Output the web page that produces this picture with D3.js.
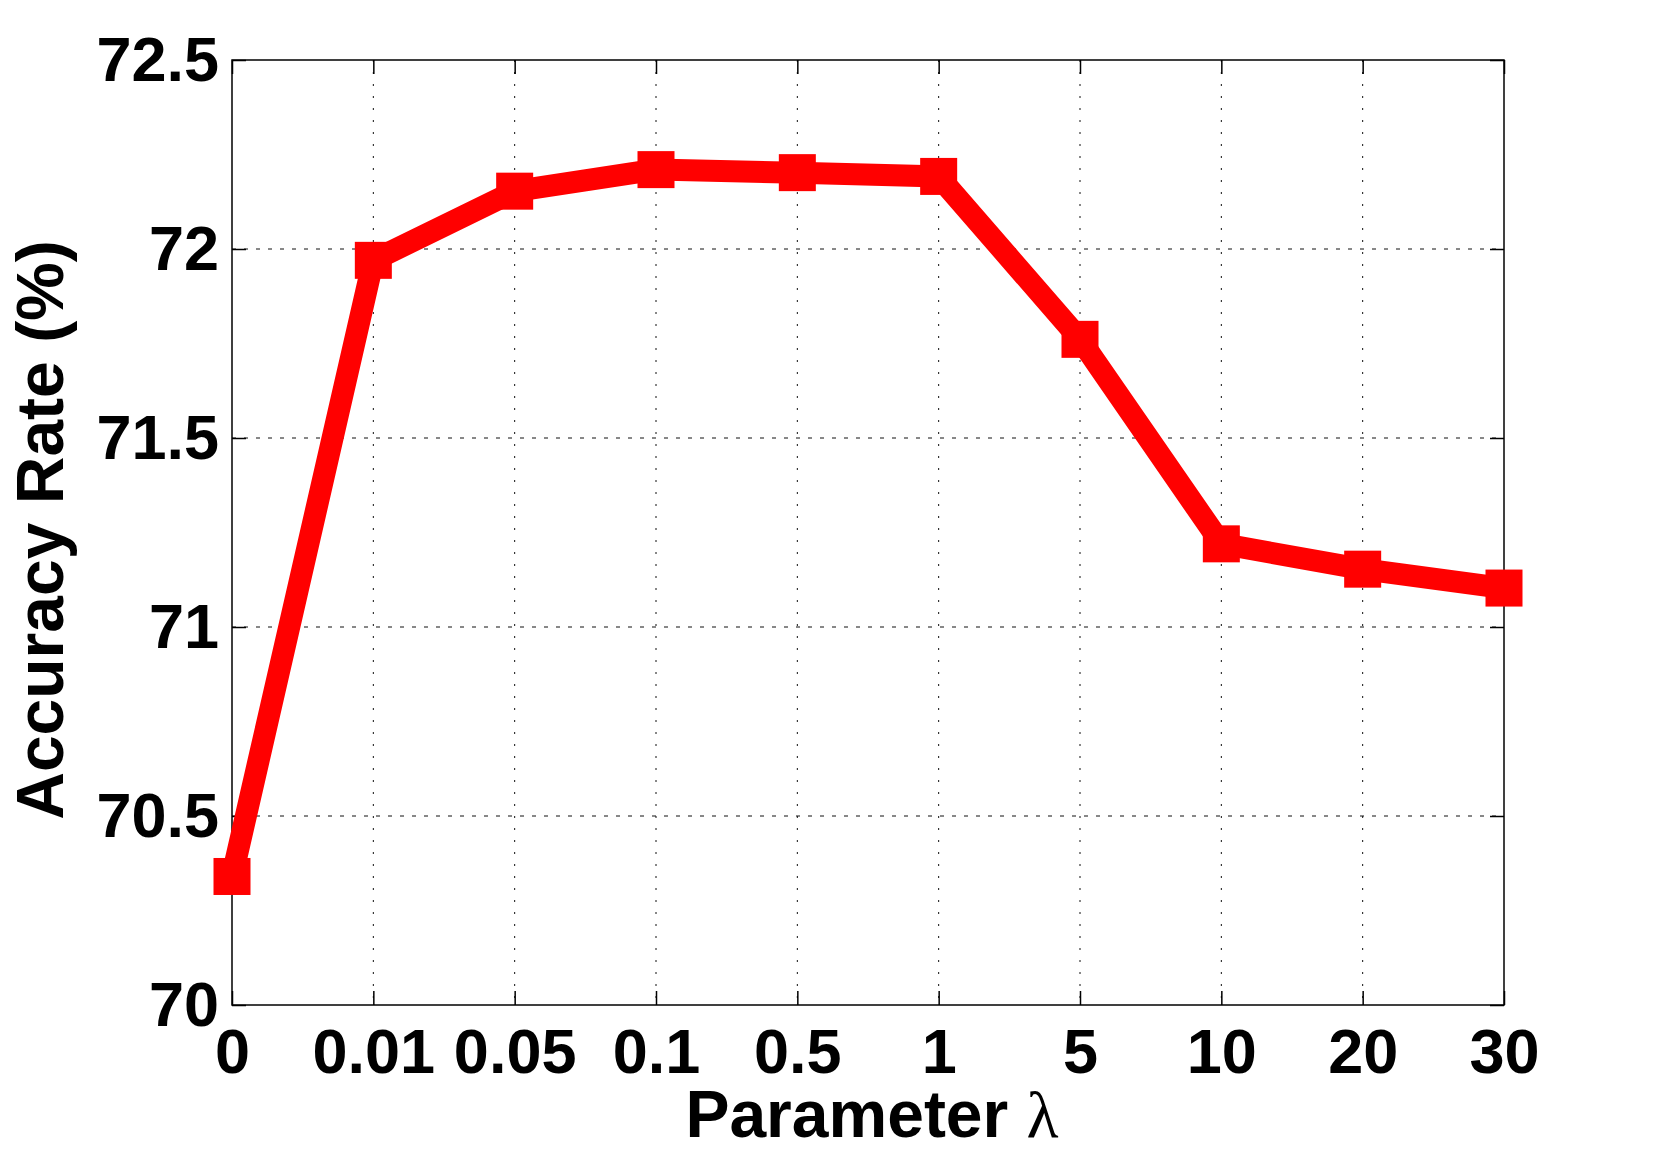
<!DOCTYPE html>
<html>
<head>
<meta charset="utf-8">
<script src="https://cdn.jsdelivr.net/npm/d3@7"></script>
<style>
  body { margin: 0; background: #fff; }
  text { font-family: "Liberation Sans", Arial, sans-serif; font-weight: bold; fill: #000; }
</style>
</head>
<body>
<div class="container"></div>
<script>
const width = 1653;
const height = 1159;

// lambda values shown as categories on the x axis
const lambdas = ["0", "0.01", "0.05", "0.1", "0.5", "1", "5", "10", "20", "30"];
// accuracy rate (%)
const accuracy = [70.34, 71.97, 72.153, 72.21, 72.202, 72.192, 71.761, 71.22, 71.153, 71.103];
const yTicks = [70, 70.5, 71, 71.5, 72, 72.5];

const plotLeft = 232, plotRight = 1504, plotTop = 60, plotBottom = 1005;

const x = d3.scalePoint().domain(lambdas).range([plotLeft, plotRight]).padding(0);
const y = d3.scaleLinear().domain([70, 72.5]).range([plotBottom, plotTop]);

const svg = d3.select(".container")
    .append("svg")
    .attr("width", width)
    .attr("height", height);

svg.append("rect").attr("width", width).attr("height", height).attr("fill", "#fff");

// grid
const grid = svg.append("g").attr("stroke", "#111").attr("stroke-width", 1);
grid.selectAll("line.v")
    .data(lambdas.slice(1, -1))
    .join("line")
    .attr("class", "v")
    .attr("x1", d => x(d)).attr("x2", d => x(d))
    .attr("y1", plotTop).attr("y2", plotBottom)
    .attr("stroke-dasharray", "2,10");
grid.selectAll("line.h")
    .data(yTicks.slice(1, -1))
    .join("line")
    .attr("class", "h")
    .attr("x1", plotLeft).attr("x2", plotRight)
    .attr("y1", d => y(d)).attr("y2", d => y(d))
    .attr("stroke-dasharray", "4,8");

// axes with inward ticks
const fontSize = 63;
svg.append("g")
    .attr("transform", `translate(0,${plotBottom})`)
    .call(d3.axisBottom(x).tickSizeInner(-14).tickSizeOuter(0).tickPadding(23));
svg.append("g")
    .attr("transform", `translate(${plotLeft},0)`)
    .call(d3.axisLeft(y).tickValues(yTicks).tickFormat(d3.format("")).tickSizeInner(-14).tickSizeOuter(0).tickPadding(13));
svg.append("g")
    .attr("transform", `translate(0,${plotTop})`)
    .call(d3.axisTop(x).tickSizeInner(-14).tickSizeOuter(0).tickFormat(""));
svg.append("g")
    .attr("transform", `translate(${plotRight},0)`)
    .call(d3.axisRight(y).tickValues(yTicks).tickSizeInner(-14).tickSizeOuter(0).tickFormat(""));

svg.selectAll(".domain").remove();
svg.selectAll(".tick line").attr("stroke", "#000").attr("stroke-width", 1.5);
svg.selectAll(".tick text")
    .style("font-family", "'Liberation Sans', Arial, sans-serif")
    .style("font-weight", "bold")
    .attr("font-size", fontSize)
    .attr("fill", "#000");

// box
svg.append("rect")
    .attr("x", plotLeft).attr("y", plotTop)
    .attr("width", plotRight - plotLeft).attr("height", plotBottom - plotTop)
    .attr("fill", "none").attr("stroke", "#000").attr("stroke-width", 1.5);

// series
const pts = lambdas.map((d, i) => [x(d), y(accuracy[i])]);
svg.append("path")
    .attr("d", d3.line()(pts))
    .attr("fill", "none")
    .attr("stroke", "#ff0000")
    .attr("stroke-width", 22)
    .attr("stroke-linejoin", "miter");
const ms = 37;
svg.append("g")
    .selectAll("rect")
    .data(pts)
    .join("rect")
    .attr("x", d => d[0] - ms / 2)
    .attr("y", d => d[1] - ms / 2)
    .attr("width", ms).attr("height", ms)
    .attr("fill", "#ff0000");

// axis titles
const xl = svg.append("text")
    .attr("x", (plotLeft + plotRight) / 2 + 4)
    .attr("y", 1137)
    .attr("text-anchor", "middle")
    .attr("font-size", 66);
xl.append("tspan").text("Parameter ");
xl.append("tspan")
    .style("font-family", "'Liberation Serif', 'Times New Roman', serif")
    .style("font-weight", "normal")
    .text("λ");

svg.append("text")
    .attr("transform", `translate(63,530) rotate(-90)`)
    .attr("text-anchor", "middle")
    .attr("font-size", 66)
    .text("Accuracy Rate (%)");
</script>
</body>
</html>
